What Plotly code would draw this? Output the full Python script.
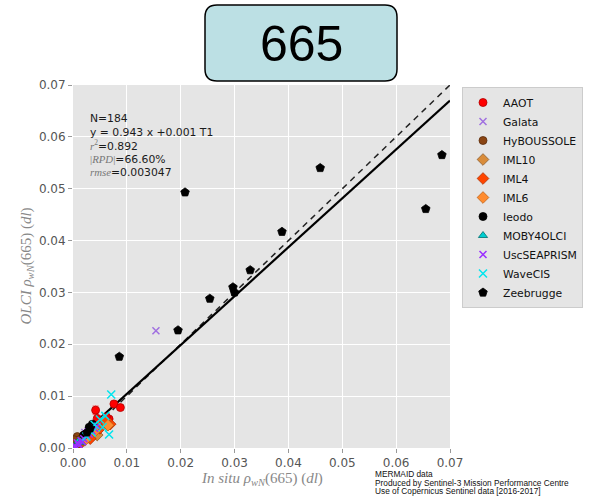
import plotly.graph_objects as go

# ---------------- data ----------------
stations = ["AAOT", "Galata", "HyBOUSSOLE", "IML10", "IML4", "IML6", "Ieodo",
            "MOBY4OLCI", "UscSEAPRISM", "WaveCIS", "Zeebrugge"]

aaot_x = [0.0042, 0.0076, 0.0088, 0.0067, 0.0058, 0.0050, 0.0030, 0.0025, 0.0040, 0.0045, 0.0020, 0.0062, 0.0011, 0.0035]
aaot_y = [0.0073, 0.0085, 0.0078, 0.0056, 0.0052, 0.0047, 0.0035, 0.0028, 0.0040, 0.0057, 0.0020, 0.0060, 0.0015, 0.0031]
aaot_e = [0.0008, 0.0004, 0.0003, 0.0003, 0.0003, 0.0002, 0.0002, 0.0002, 0.0002, 0.0003, 0.0002, 0.0003, 0.0004, 0.0002]

galata_x = [0.0154, 0.0010, 0.0015, 0.0022, 0.0008, 0.0018]
galata_y = [0.0226, 0.0012, 0.0010, 0.0030, 0.0006, 0.0021]

hyb_x = [0.0008, 0.0005, 0.0012, 0.0003, 0.0015, 0.0002]
hyb_y = [0.0022, 0.0012, 0.0008, 0.0004, 0.0018, 0.0016]

iml10_x = [0.0045, 0.0035, 0.0055, 0.0028]
iml10_y = [0.0025, 0.0030, 0.0048, 0.0022]

iml4_x = [0.0069, 0.0032, 0.0050, 0.0015, 0.0060]
iml4_y = [0.0046, 0.0018, 0.0038, 0.0010, 0.0050]

iml6_x = [0.0065, 0.0040, 0.0022]
iml6_y = [0.0044, 0.0032, 0.0015]

ieodo_x = [0.0036, 0.0030, 0.0020]
ieodo_y = [0.0046, 0.0040, 0.0025]

moby_x = [0.0012, 0.0010, 0.0014]
moby_y = [0.0010, 0.0013, 0.0012]

usc_x = [0.0005, 0.0010, 0.0015, 0.0020, 0.0025, 0.0030, 0.0035, 0.0040, 0.0018, 0.0008, 0.0028, 0.0045, 0.0003, 0.0012]
usc_y = [0.0003, 0.0008, 0.0014, 0.0018, 0.0024, 0.0027, 0.0033, 0.0038, 0.0012, 0.0010, 0.0031, 0.0042, 0.0002, 0.0005]

wave_x = [0.0071, 0.0067, 0.0060, 0.0050, 0.0040, 0.0035, 0.0055, 0.0025]
wave_y = [0.0103, 0.0026, 0.0062, 0.0055, 0.0045, 0.0030, 0.0040, 0.0022]

zee_x = [0.0208, 0.0459, 0.0685, 0.0655, 0.0388, 0.0329, 0.0297, 0.0300, 0.0254, 0.0195, 0.0086, 0.0032, 0.0026]
zee_y = [0.0493, 0.0540, 0.0565, 0.0461, 0.0417, 0.0343, 0.0310, 0.0300, 0.0288, 0.0227, 0.0176, 0.0038, 0.0030]

fit_slope = 0.943
fit_offset = 0.001
axis_max = 0.07
tick_vals = [0.00, 0.01, 0.02, 0.03, 0.04, 0.05, 0.06, 0.07]

stats_lines = [
    "N=184",
    "y = 0.943 x +0.001 T1",
    "<span style='font-family:Liberation Serif;color:#777'><i>r</i><sup>2</sup></span>=0.892",
    "<span style='font-family:Liberation Serif;color:#777'>|<i>RPD</i>|</span>=66.60%",
    "<span style='font-family:Liberation Serif;color:#777'><i>rmse</i></span>=0.003047",
]
foot_lines = ["MERMAID data",
              "Produced by Sentinel-3 Mission Performance Centre",
              "Use of Copernicus Sentinel data [2016-2017]"]

# ---------------- styles ----------------
series = [
    ("AAOT", aaot_x, aaot_y, aaot_e, "circle", "#ff0000", "#b00000", 8),
    ("Galata", galata_x, galata_y, None, "x-thin", "#a070e0", "#a070e0", 7),
    ("HyBOUSSOLE", hyb_x, hyb_y, None, "circle", "#8b4513", "#5a2d0c", 8),
    ("IML10", iml10_x, iml10_y, None, "diamond", "#d98c3a", "#8b5a2b", 9),
    ("IML4", iml4_x, iml4_y, None, "diamond", "#ff4500", "#b03000", 9),
    ("IML6", iml6_x, iml6_y, None, "diamond", "#ff8c30", "#c06010", 9),
    ("Ieodo", ieodo_x, ieodo_y, None, "circle", "#000000", "#000000", 8),
    ("MOBY4OLCI", moby_x, moby_y, None, "triangle-up", "#00ced1", "#007070", 8),
    ("UscSEAPRISM", usc_x, usc_y, None, "x-thin", "#9b30ff", "#9b30ff", 7),
    ("WaveCIS", wave_x, wave_y, None, "x-thin", "#00e5ee", "#00e5ee", 8),
    ("Zeebrugge", zee_x, zee_y, None, "pentagon", "#000000", "#000000", 9),
]

fig = go.Figure()

# 1:1 line and regression line
fig.add_trace(go.Scatter(x=[0, axis_max], y=[0, axis_max], mode="lines",
                         line=dict(color="#222222", width=1.5, dash="6px,5px"),
                         showlegend=False, hoverinfo="skip"))
fig.add_trace(go.Scatter(x=[0, axis_max], y=[fit_offset, fit_slope * axis_max + fit_offset], mode="lines",
                         line=dict(color="black", width=2.2),
                         showlegend=False, hoverinfo="skip"))

for name, xs, ys, es, sym, col, edge, size in series:
    kw = {}
    if es is not None:
        kw["error_y"] = dict(type="data", array=es, color="#ff6060", thickness=1.2, width=3)
    if sym.startswith("x"):
        marker = dict(symbol=sym, size=size, color=col, line=dict(color=col, width=1.5))
    else:
        marker = dict(symbol=sym, size=size, color=col, line=dict(color=edge, width=0.8))
    fig.add_trace(go.Scatter(x=xs, y=ys, mode="markers", name=name,
                             marker=marker, **kw))

axis_common = dict(range=[0, axis_max], tickvals=tick_vals, tickformat=".2f",
                   showgrid=True, gridcolor="white", gridwidth=1, zeroline=False,
                   ticks="outside", ticklen=4, tickcolor="#999999",
                   tickfont=dict(family="DejaVu Sans", size=12, color="#555555"),
                   showline=False, fixedrange=True)

fig.update_layout(
    width=594, height=496,
    margin=dict(l=73, r=144, t=85, b=48, autoexpand=False),
    paper_bgcolor="white", plot_bgcolor="#e5e5e5",
    xaxis=dict(**axis_common),
    yaxis=dict(**axis_common),
    showlegend=True,
    legend=dict(x=(462 - 73) / 377, y=1 - (87 - 85) / 363, xanchor="left", yanchor="top",
                bgcolor="#e5e5e5", bordercolor="#cccccc", borderwidth=1,
                font=dict(family="DejaVu Sans", size=10.8, color="#111111"),
                itemsizing="trace"),
)

def px_x(p):
    return (p - 73) / 377

def px_y(p):
    return (448 - p) / 363

ann = []
stat_y = [119, 132, 145, 159, 172]
for t, yy in zip(stats_lines, stat_y):
    ann.append(dict(x=px_x(88), y=px_y(yy), xref="paper", yref="paper", text=t,
                    showarrow=False, xanchor="left", yanchor="middle",
                    font=dict(family="DejaVu Sans", size=10.8, color="#1a1a1a")))

ann.append(dict(x=0.5, y=px_y(479), xref="paper", yref="paper",
                text="<i>In situ ρ<sub>wN</sub></i>(665) (<i>dl</i>)", showarrow=False,
                xanchor="center", yanchor="middle",
                font=dict(family="Liberation Serif", size=15, color="#888888")))
ann.append(dict(x=px_x(26), y=0.5, xref="paper", yref="paper", textangle=-90,
                text="<i>OLCI ρ<sub>wN</sub></i>(665) (<i>dl</i>)", showarrow=False,
                xanchor="center", yanchor="middle",
                font=dict(family="Liberation Serif", size=15, color="#888888")))

foot_y = [474, 482.5, 491]
for t, yy in zip(foot_lines, foot_y):
    ann.append(dict(x=px_x(373), y=px_y(yy), xref="paper", yref="paper", text=t,
                    showarrow=False, xanchor="left", yanchor="middle",
                    font=dict(family="Liberation Sans", size=8.3, color="#111111")))

# title box text
ann.append(dict(x=px_x(301), y=px_y(44), xref="paper", yref="paper", text="665",
                showarrow=False, xanchor="center", yanchor="middle",
                font=dict(family="Liberation Sans", size=50, color="black")))
fig.update_layout(annotations=ann)

x0, x1 = px_x(205), px_x(397)
yt, yb = px_y(5), px_y(81)
rx, ry = 12 / 377, 12 / 363
path = (f"M {x0 + rx},{yt} L {x1 - rx},{yt} Q {x1},{yt} {x1},{yt - ry} "
        f"L {x1},{yb + ry} Q {x1},{yb} {x1 - rx},{yb} "
        f"L {x0 + rx},{yb} Q {x0},{yb} {x0},{yb + ry} "
        f"L {x0},{yt - ry} Q {x0},{yt} {x0 + rx},{yt} Z")
fig.add_shape(type="path", path=path, xref="paper", yref="paper",
              fillcolor="#bce0e4", line=dict(color="black", width=1.5), layer="above")

fig.write_html("out.html")
